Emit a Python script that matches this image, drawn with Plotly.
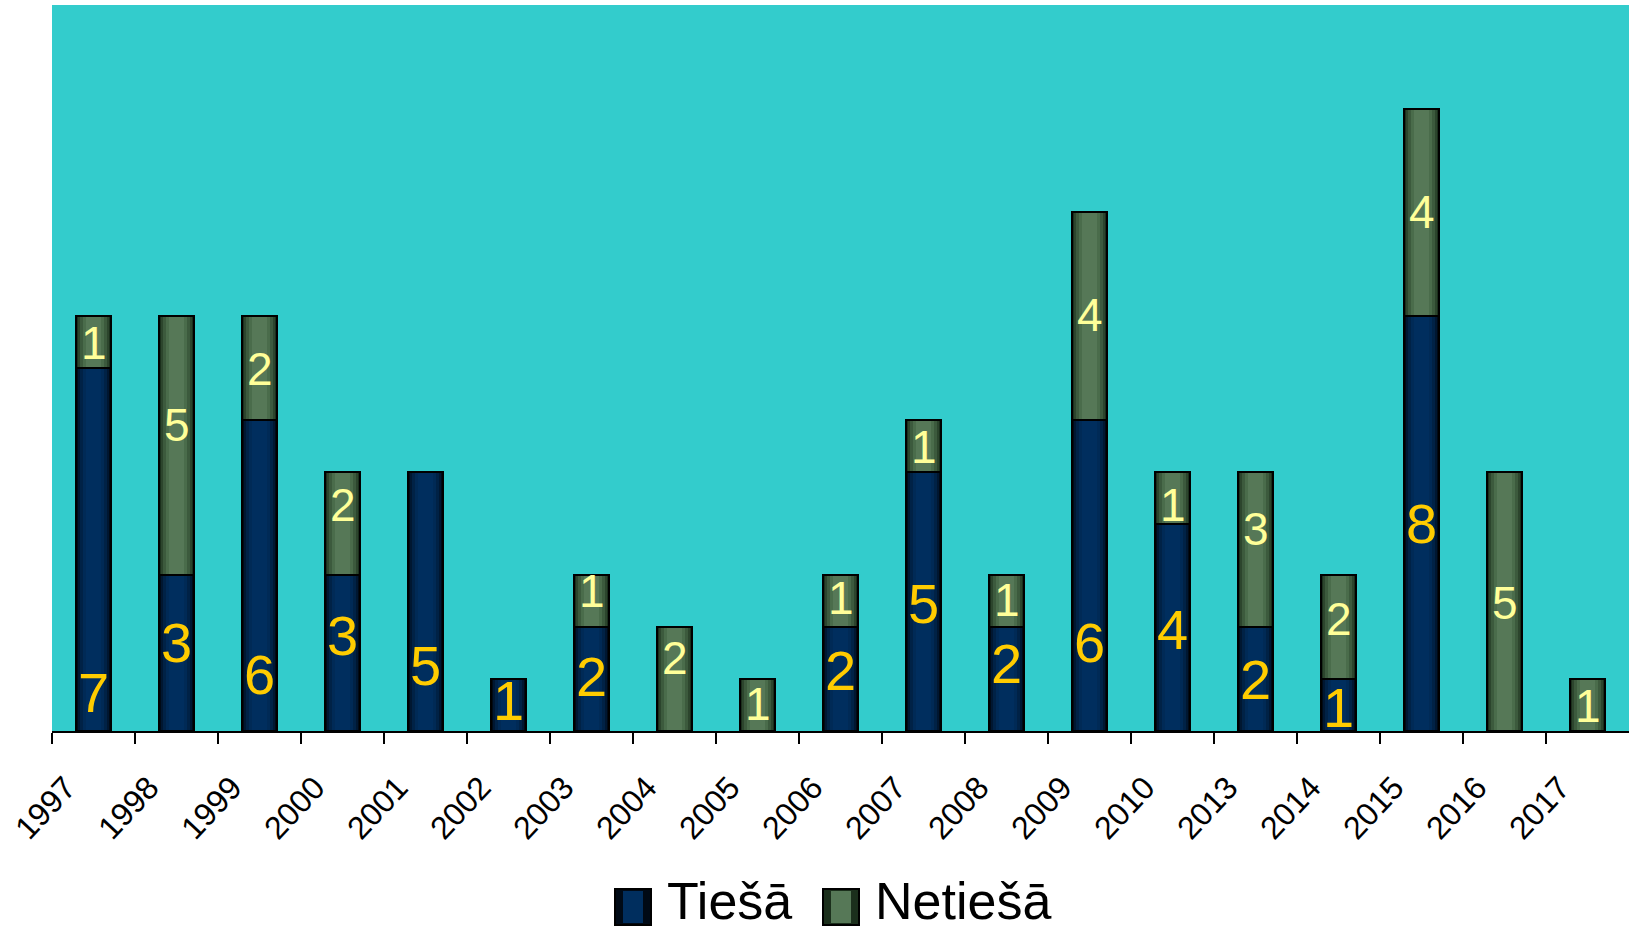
import plotly.graph_objects as go

# Categories and counts per year
years = ["1997", "1998", "1999", "2000", "2001", "2002", "2003", "2004", "2005", "2006",
         "2007", "2008", "2009", "2010", "2013", "2014", "2015", "2016", "2017"]
tiesa = [7, 3, 6, 3, 5, 1, 2, 0, 0, 2, 5, 2, 6, 4, 2, 1, 8, 0, 0]
netiesa = [1, 5, 2, 2, 0, 0, 1, 2, 1, 1, 1, 1, 4, 1, 3, 2, 4, 5, 1]

# Height (in value units) at which each value label sits
tiesa_label_y = [0.75, 1.71, 1.08, 1.85, 1.27, 0.58, 1.06, None, None, 1.16,
                 2.46, 1.30, 1.70, 1.96, 1.00, 0.46, 4.0, None, None]
netiesa_label_y = [7.48, 5.91, 6.99, 4.36, None, None, 2.70, 1.40, 0.53, 2.57,
                   5.48, 2.52, 8.02, 4.36, 3.90, 2.16, 10.0, 2.47, 0.48]

FONT = "Liberation Sans, Arial, sans-serif"
BAR_W = 0.42
TIESA_SHADES = [(0.42, "#000a16"), (0.37, "#001731"), (0.32, "#002246"),
                (0.26, "#002a56"), (0.19, "#002e5e")]
NETIESA_SHADES = [(0.42, "#1b2f1c"), (0.37, "#2c452d"), (0.32, "#3c5a3d"),
                  (0.26, "#4a6c4b"), (0.19, "#567857")]

x = list(range(len(years)))
net_base = list(tiesa)

fig = go.Figure()


def add_segment(values, base, shades):
    # shaded body: nested bars from dark edge to lighter centre
    for w, col in shades:
        fig.add_trace(go.Bar(x=x, y=values, base=base, width=w,
                             marker=dict(color=col, line=dict(width=0)),
                             showlegend=False, hoverinfo="skip"))
    # black outline on top
    fig.add_trace(go.Bar(x=x, y=values, base=base, width=BAR_W,
                         marker=dict(color="rgba(0,0,0,0)",
                                     line=dict(color="black", width=2)),
                         showlegend=False, hoverinfo="skip"))


add_segment(tiesa, [0] * len(x), TIESA_SHADES)
add_segment(netiesa, net_base, NETIESA_SHADES)

annotations = []
for i in x:
    if tiesa[i] and tiesa_label_y[i] is not None:
        annotations.append(dict(x=i, y=tiesa_label_y[i], xref="x", yref="y",
                                text=str(tiesa[i]), showarrow=False,
                                font=dict(family=FONT, size=56, color="#FFCC00"),
                                xanchor="center", yanchor="middle"))
    if netiesa[i] and netiesa_label_y[i] is not None:
        annotations.append(dict(x=i, y=netiesa_label_y[i], xref="x", yref="y",
                                text=str(netiesa[i]), showarrow=False,
                                font=dict(family=FONT, size=46, color="#FFFF99"),
                                xanchor="center", yanchor="middle"))

# Legend drawn as swatches + text below the axis
W, H = 1629, 932
L, R, T, B = 52, 0, 5, 201
pw, ph = W - L - R, H - T - B


def px_x(p):
    return (p - L) / pw


def px_y(p):
    return (H - B - p) / ph


shapes = []
legend_items = [("Tiešā", 615, "#002e5e", "#000a16"),
                ("Netiešā", 823, "#567857", "#1b2f1c")]
for label, x0, inner, edge in legend_items:
    shapes.append(dict(type="rect", xref="paper", yref="paper",
                       x0=px_x(x0), x1=px_x(x0 + 36), y0=px_y(925), y1=px_y(889),
                       fillcolor=edge, line=dict(color="black", width=2)))
    shapes.append(dict(type="rect", xref="paper", yref="paper",
                       x0=px_x(x0 + 8), x1=px_x(x0 + 28), y0=px_y(923), y1=px_y(891),
                       fillcolor=inner, line=dict(width=0)))
    annotations.append(dict(x=px_x(x0 + 50), y=px_y(932), xref="paper", yref="paper",
                            text=label, showarrow=False, xanchor="left", yanchor="bottom",
                            font=dict(family=FONT, size=52, color="black")))

fig.update_layout(
    width=W, height=H,
    margin=dict(l=L, r=R, t=T, b=B, pad=0),
    barmode="overlay",
    bargap=0,
    paper_bgcolor="white",
    plot_bgcolor="#33CCCC",
    showlegend=False,
    annotations=annotations,
    shapes=shapes,
    xaxis=dict(range=[-0.5, len(years) - 0.5],
               tickmode="array",
               tickvals=[i - 0.5 for i in x],
               ticktext=years,
               tickangle=-47,
               ticks="outside", ticklen=11, tickwidth=2, tickcolor="black",
               ticklabelshift=14, ticklabelstandoff=12,
               showline=True, linecolor="black", linewidth=2,
               showgrid=False, zeroline=False,
               tickfont=dict(family=FONT, size=32, color="black")),
    yaxis=dict(range=[0, 14], visible=False, showgrid=False, zeroline=False),
)

fig.write_html("out.html")
